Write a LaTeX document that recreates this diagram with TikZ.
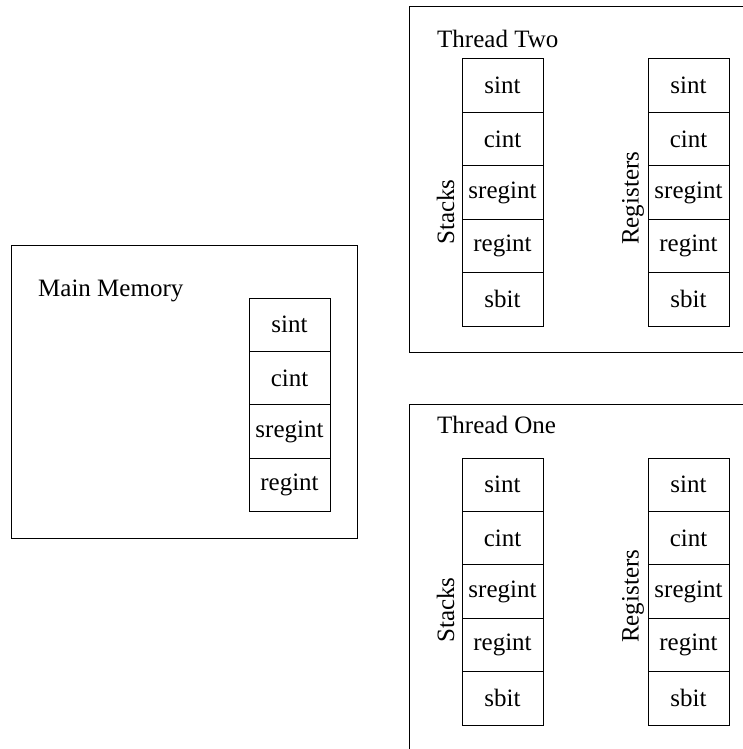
\documentclass[tikz,border=0pt]{standalone}
\usepackage{fontspec}
\setmainfont{Liberation Serif}
\begin{document}
\begin{tikzpicture}[x=1pt,y=-1pt,
  txt/.style={font=\fontsize{25}{30}\selectfont},
  cell/.style={draw, line width=1pt, minimum width=81pt, minimum height=53.4pt, inner sep=0pt, outer sep=0pt, anchor=north, txt},
  frame/.style={draw, line width=1pt, inner sep=0pt, outer sep=0pt, anchor=north west},
  lbl/.style={txt, inner sep=0pt, anchor=base west},
  vlbl/.style={lbl, rotate=90}]
\useasboundingbox (0,0) rectangle (743,749);
\clip (0,0) rectangle (743,749);

% Main memory
\node[frame, minimum width=346pt, minimum height=293pt] (mmframe) at (11,245) {};
\node[lbl] (mmlbl) at (38,296) {Main Memory};
\node[cell] (m1) at (289.5,298) {sint};
\node[cell] (m2) at (m1.south) {cint};
\node[cell] (m3) at (m2.south) {sregint};
\node[cell] (m4) at (m3.south) {regint};

% Thread Two
\node[frame, minimum width=400pt, minimum height=345pt] (ttframe) at (409,7) {};
\node[lbl] (ttlbl) at (437,48) {Thread Two};
\node[cell] (ts1) at (502.5,59) {sint};
\node[cell] (ts2) at (ts1.south) {cint};
\node[cell] (ts3) at (ts2.south) {sregint};
\node[cell] (ts4) at (ts3.south) {regint};
\node[cell] (ts5) at (ts4.south) {sbit};
\node[cell] (tr1) at (688.5,59) {sint};
\node[cell] (tr2) at (tr1.south) {cint};
\node[cell] (tr3) at (tr2.south) {sregint};
\node[cell] (tr4) at (tr3.south) {regint};
\node[cell] (tr5) at (tr4.south) {sbit};
\node[vlbl] (tslbl) at (454,245) {Stacks};
\node[vlbl] (trlbl) at (638.5,245) {Registers};

% Thread One
\node[frame, minimum width=400pt, minimum height=400pt] (toframe) at (409,404) {};
\node[lbl] (tolbl) at (437,433) {Thread One};
\node[cell] (os1) at (502.5,458) {sint};
\node[cell] (os2) at (os1.south) {cint};
\node[cell] (os3) at (os2.south) {sregint};
\node[cell] (os4) at (os3.south) {regint};
\node[cell] (os5) at (os4.south) {sbit};
\node[cell] (or1) at (688.5,458) {sint};
\node[cell] (or2) at (or1.south) {cint};
\node[cell] (or3) at (or2.south) {sregint};
\node[cell] (or4) at (or3.south) {regint};
\node[cell] (or5) at (or4.south) {sbit};
\node[vlbl] (oslbl) at (454,643) {Stacks};
\node[vlbl] (orlbl) at (638.5,643) {Registers};
\end{tikzpicture}
\end{document}
